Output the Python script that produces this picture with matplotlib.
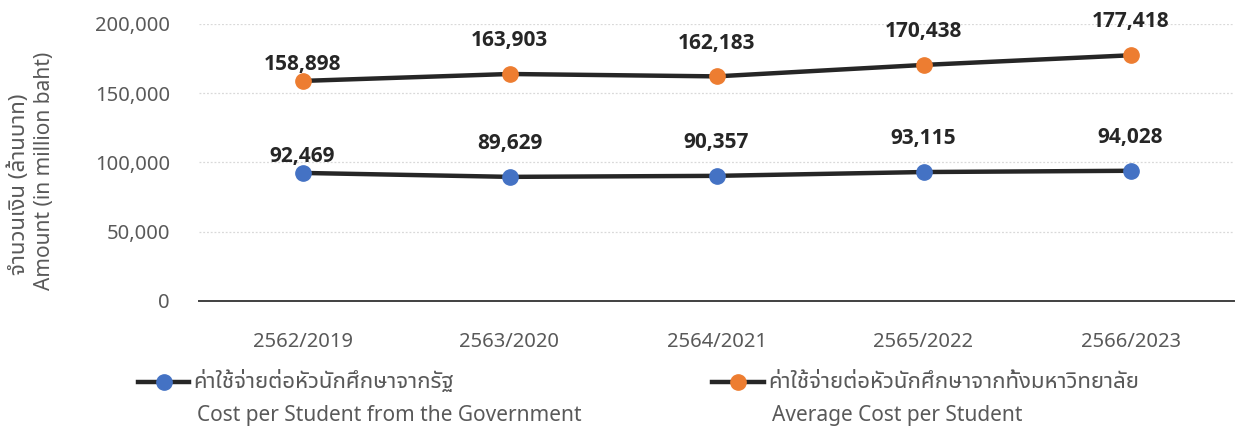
import matplotlib
matplotlib.use("Agg")
import matplotlib.pyplot as plt
from matplotlib.lines import Line2D

plt.rcParams['font.family'] = ['Noto Sans', 'Noto Sans Thai UI', 'DejaVu Sans']

years = ["2562/2019", "2563/2020", "2564/2021", "2565/2022", "2566/2023"]
gov_cost = [92469, 89629, 90357, 93115, 94028]
avg_cost = [158898, 163903, 162183, 170438, 177418]
yticks = [0, 50000, 100000, 150000, 200000]

gov_label_th = "ค่าใช้จ่ายต่อหัวนักศึกษาจากรัฐ"
gov_label_en = "Cost per Student from the Government"
avg_label_th = "ค่าใช้จ่ายต่อหัวนักศึกษาจากทั้งมหาวิทยาลัย"
avg_label_en = "Average Cost per Student"
ylabel_th = "จำนวนเงิน (ล้านบาท)"
ylabel_en = "Amount (in million baht)"

line_col = "#262626"
blue = "#4472C4"
orange = "#ED7D31"
grey_txt = "#595959"

W, H = 1238, 432
fig = plt.figure(figsize=(W / 100, H / 100), dpi=100)
ax = fig.add_axes([199 / W, 1 - 301 / H, (1234 - 199) / W, (301 - 24) / H])

x = list(range(len(years)))
series = [(gov_cost, blue), (avg_cost, orange)]
for vals, col in series:
    ax.plot(x, vals, color=line_col, lw=3.2, zorder=3, solid_capstyle="round")
    ax.plot(x, vals, "o", ms=11, color=col, mec=col, zorder=4)
    for i, v in enumerate(vals):
        off = 12 if i == 0 else 24
        ax.annotate(f"{v:,}", (i, v), xytext=(0, off), textcoords="offset points",
                    ha="center", va="center", fontsize=15, fontweight="bold",
                    family=["Open Sans", "DejaVu Sans"], color="#262626", zorder=5)

ax.set_xlim(-0.5, len(years) - 0.5)
ax.set_ylim(0, 200000)
ax.set_yticks(yticks)
ax.set_yticklabels([f"{t:,}" for t in yticks])
ax.set_xticks(x)
ax.set_xticklabels(years)
ax.tick_params(axis="both", length=0, labelsize=14.5, labelcolor=grey_txt)
ax.tick_params(axis="y", pad=21)
ax.tick_params(axis="x", pad=22)
ax.grid(axis="y", color="#D9D9D9", lw=0.9, ls=(0, (1.5, 1.5)))
ax.set_axisbelow(True)
for s in ["top", "right", "left"]:
    ax.spines[s].set_visible(False)
ax.spines["bottom"].set_color("#404040")
ax.spines["bottom"].set_linewidth(1.4)
ax.spines["bottom"].set_zorder(2)

fig.text(19 / W, 1 - 184 / H, ylabel_th, rotation=90, ha="center", va="center",
         fontsize=16, color=grey_txt)
fig.text(45 / W, 1 - 171 / H, ylabel_en, rotation=90, ha="center", va="center",
         fontsize=15, color=grey_txt)

# legend drawn by hand so each Thai label sits on the marker row
legend_items = [(blue, gov_label_th, gov_label_en, 138, 193),
                (orange, avg_label_th, avg_label_en, 712, 768)]
for col, th, en, x0, xt in legend_items:
    yl = 1 - 382 / H
    fig.add_artist(Line2D([x0 / W, (xt - 4) / W], [yl, yl], color=line_col, lw=3.2,
                          transform=fig.transFigure))
    fig.add_artist(Line2D([(x0 + xt - 4) / 2 / W], [yl], marker="o", ms=11, color=col,
                          mec=col, transform=fig.transFigure))
    fig.text(xt / W, yl, th, ha="left", va="center", fontsize=16, color=grey_txt)
    fig.text((xt + 4) / W, 1 - 416 / H, en, ha="left", va="center", fontsize=15,
             color=grey_txt)

fig.savefig("out.png", dpi=100)
